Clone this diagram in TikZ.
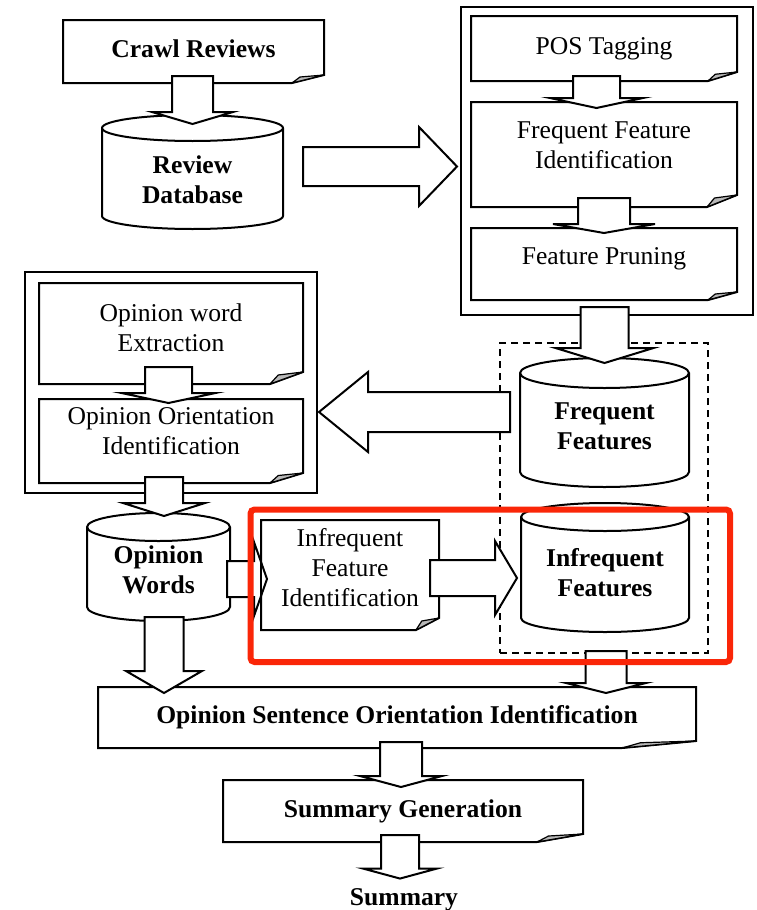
\documentclass[tikz,border=0pt]{standalone}
\usepackage{fontspec}
\setmainfont{Liberation Serif}
\usetikzlibrary{calc}
\newcommand\flowfont{\fontsize{25.6pt}{30pt}\selectfont}
% centred lines of text, shifted vertically without changing the box size
\newcommand\lift[2]{\raisebox{#1}[\height][\depth]{\begin{tabular}{@{}c@{}}#2\end{tabular}}}
\definecolor{hlred}{RGB}{250,38,8}

\begin{document}
\begin{tikzpicture}[x=1pt,y=-1pt,
  every node/.style={inner sep=0pt,outer sep=0pt},
  txt/.style={font=\flowfont},
  txtb/.style={font=\flowfont\bfseries},
  grp/.style={draw,line width=2.6pt},
  docline/.style={draw,line width=2pt,line join=miter},
  foldflap/.style={draw,line width=1.2pt,fill=gray!55,line join=round},
  cylline/.style={draw,line width=2pt},
  barrow/.style={draw,fill=white,line width=2pt,line join=miter},
  shaftw/.store in=\baw, headw/.store in=\baW, headl/.store in=\baL,
  bdown/.style={barrow,to path={let \p1=(\tikztostart),\p2=(\tikztotarget) in
     (\x1-\baw,\y1) -- (\x1-\baw,\y2+\baL) -- (\x1-\baW,\y2+\baL) -- (\x1,\y2)
     -- (\x1+\baW,\y2+\baL) -- (\x1+\baw,\y2+\baL) -- (\x1+\baw,\y1) -- cycle}},
  bright/.style={barrow,to path={let \p1=(\tikztostart),\p2=(\tikztotarget) in
     (\x1,\y1+\baw) -- (\x2-\baL,\y1+\baw) -- (\x2-\baL,\y1+\baW) -- (\x2,\y1)
     -- (\x2-\baL,\y1-\baW) -- (\x2-\baL,\y1-\baw) -- (\x1,\y1-\baw) -- cycle}},
  bleft/.style={barrow,to path={let \p1=(\tikztostart),\p2=(\tikztotarget) in
     (\x1,\y1+\baw) -- (\x2+\baL,\y1+\baw) -- (\x2+\baL,\y1+\baW) -- (\x2,\y1)
     -- (\x2+\baL,\y1-\baW) -- (\x2+\baL,\y1-\baw) -- (\x1,\y1-\baw) -- cycle}},
]
\useasboundingbox (0,0) rectangle (756,910);

% ---- group frames
\node[grp,minimum width=292pt,minimum height=308pt] (featgrp) at (607,161) {};
\node[grp,minimum width=292pt,minimum height=221pt] (opgrp) at (171,382.5) {};
\node[draw,line width=2pt,dash pattern=on 7pt off 5pt,minimum width=208pt,minimum height=310pt] (fset) at (604,498) {};

% ---- process steps (document shapes)
\node[txtb,minimum width=261pt,minimum height=63pt] (crawl) at (193.5,51.5) {\lift{0pt}{Crawl Reviews}};
\node[txt,minimum width=266pt,minimum height=65pt] (pos) at (604,48.5) {\lift{0pt}{POS Tagging}};
\node[txt,minimum width=266pt,minimum height=105pt] (ffi) at (604,154.5) {\lift{7pt}{Frequent Feature\\Identification}};
\node[txt,minimum width=266pt,minimum height=72pt] (fp) at (604,264) {\lift{6pt}{Feature Pruning}};
\node[txt,minimum width=264pt,minimum height=101pt] (owe) at (171,333.5) {\lift{3pt}{Opinion word\\Extraction}};
\node[txt,minimum width=264pt,minimum height=84pt] (ooi) at (171,441) {\lift{8pt}{Opinion Orientation\\Identification}};
\node[txt,minimum width=178pt,minimum height=110pt] (ifi) at (350,575) {\lift{5pt}{Infrequent\\Feature\\Identification}};
\node[txtb,minimum width=598pt,minimum height=61pt] (osoi) at (397,717.5) {\lift{0pt}{Opinion Sentence Orientation Identification}};
\node[txtb,minimum width=360pt,minimum height=62pt] (sg) at (403,811) {\lift{0pt}{Summary Generation}};
\node[txtb,anchor=base] (summary) at (404,905) {Summary};

% ---- data stores (cylinders)
\node[txtb,minimum width=181pt,minimum height=114pt] (dbrev) at (192.5,172) {\lift{-10pt}{Review\\Database}};
\node[txtb,minimum width=169pt,minimum height=129pt] (ff) at (604.5,422.5) {\lift{-5.5pt}{Frequent\\Features}};
\node[txtb,minimum width=168pt,minimum height=129pt] (inff) at (605,567.5) {\lift{-7.5pt}{Infrequent\\Features}};
\node[txtb,minimum width=143pt,minimum height=108pt] (ow) at (158.5,567) {\lift{-5.5pt}{Opinion\\Words}};

% document outlines with a folded bottom-right corner
\foreach \d/\fw/\fh in {crawl/32/8,pos/29/9,ffi/30/12,fp/29/8,owe/33/12,ooi/33/10,ifi/23/12,osoi/74/7,sg/46/8}{
  \draw[docline] (\d.north west) -- (\d.north east) -- ([yshift=\fh*1pt]\d.south east)
     -- ([xshift=-\fw*1pt]\d.south east) -- (\d.south west) -- cycle;
  \draw[foldflap] ([xshift=-\fw*1pt]\d.south east)
     -- ([xshift=-0.75*\fw*1pt,yshift=0.75*\fh*1pt]\d.south east)
     -- ([yshift=\fh*1pt]\d.south east) -- cycle;
}

% cylinder outlines
\foreach \c/\rx/\ry in {dbrev/90.5/13,ff/84.5/15,inff/84/14,ow/71.5/14}{
  \draw[cylline] ([yshift=-\ry*1pt]\c.north west) -- ([yshift=\ry*1pt]\c.south west)
     arc[start angle=180,end angle=360,x radius=\rx*1pt,y radius=\ry*1pt]
     -- ([yshift=-\ry*1pt]\c.north east)
     arc[start angle=0,end angle=180,x radius=\rx*1pt,y radius=\ry*1pt] -- cycle;
  \draw[cylline] ([yshift=-\ry*1pt]\c.north west)
     arc[start angle=180,end angle=360,x radius=\rx*1pt,y radius=\ry*1pt];
}

% ---- block arrows
\draw[bdown,shaftw=20.5pt,headw=40.5pt,headl=12pt] ([xshift=-1pt,yshift=7pt]crawl.south) to ([yshift=-9pt]dbrev.north);
\draw[bright,shaftw=19.5pt,headw=39.5pt,headl=38pt] ([xshift=20pt,yshift=5.5pt]dbrev.east) to ([xshift=-4pt]featgrp.west);
\draw[bdown,shaftw=23.5pt,headw=46.5pt,headl=10pt] ([xshift=-7.5pt,yshift=5pt]pos.south) to ([yshift=-6pt]ffi.north);
\draw[bdown,shaftw=26pt,headw=51pt,headl=9pt] ([yshift=9pt]ffi.south) to ([yshift=-5pt]fp.north);
\draw[bdown,shaftw=24pt,headw=49pt,headl=15pt] ([xshift=-2.5pt,yshift=8pt]featgrp.south) to ([yshift=-5pt]ff.north);
\draw[bleft,shaftw=20pt,headw=40pt,headl=49pt] ([xshift=-10pt,yshift=10.5pt]ff.west) to ([xshift=2pt]opgrp.east);
\draw[bdown,shaftw=23.5pt,headw=47pt,headl=10pt] ([xshift=-2.5pt,yshift=17pt]owe.south) to ([yshift=-4pt]ooi.north);
\draw[bdown,shaftw=19pt,headw=41pt,headl=13pt] ([xshift=-7pt,yshift=6pt]ooi.south) to ([yshift=-3pt]ow.north);
\draw[bright,shaftw=18pt,headw=37pt,headl=13pt] ([xshift=-3pt,yshift=-12pt]ow.east) to ([xshift=6pt]ifi.west);
\draw[docline] (ifi.north west) -- (ifi.south west);
\draw[bright,shaftw=18pt,headw=37pt,headl=22pt] ([xshift=-9pt,yshift=-3pt]ifi.east) to ([xshift=-4pt]inff.west);
\draw[bdown,shaftw=19.5pt,headw=38pt,headl=22pt] ([xshift=5.5pt,yshift=4pt]ow.south) to ([yshift=-6pt]osoi.north);
\draw[bdown,shaftw=20.5pt,headw=40pt,headl=10pt] ([xshift=2pt,yshift=2pt]fset.south) to ([yshift=-6pt]osoi.north);
\draw[bdown,shaftw=21pt,headw=41pt,headl=11pt] ([xshift=4pt,yshift=6pt]osoi.south) to ([yshift=-7pt]sg.north);
\draw[bdown,shaftw=19pt,headw=37pt,headl=10pt] ([xshift=-3pt,yshift=7pt]sg.south) to ([yshift=9.5pt]summary.north);

% ---- highlight frame
\node[draw=hlred,line width=6pt,rounded corners=4pt,minimum width=479.5pt,minimum height=152.5pt] (hl) at (490.25,585.75) {};
\end{tikzpicture}
\end{document}
